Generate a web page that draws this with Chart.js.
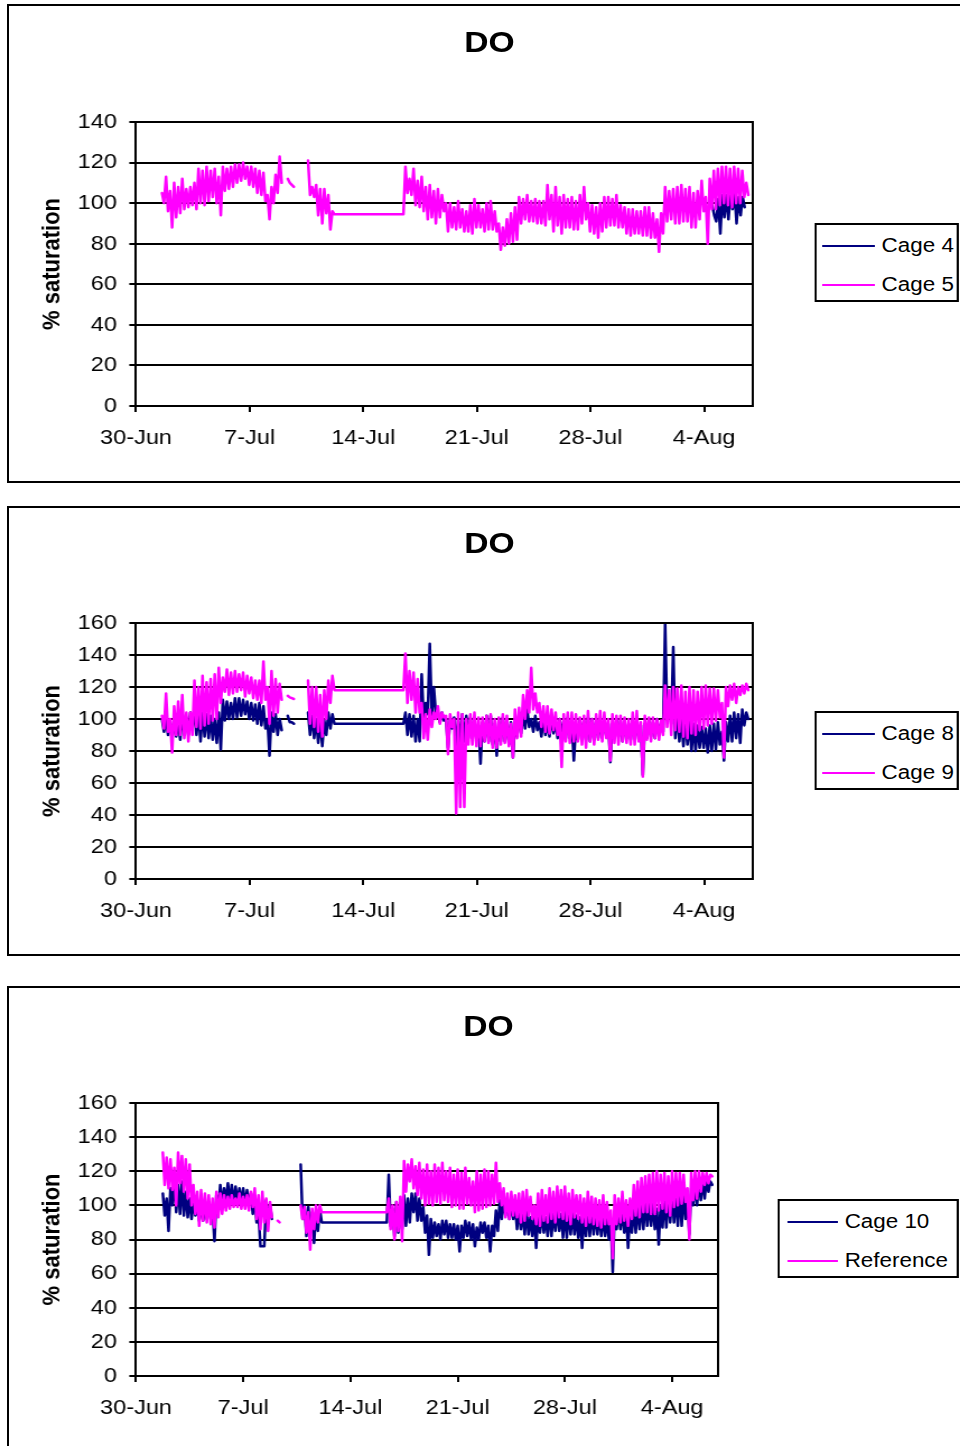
<!DOCTYPE html>
<html>
<head>
<meta charset="utf-8">
<title>DO - % saturation</title>
<script src="https://cdn.jsdelivr.net/npm/chart.js@4.4.1/dist/chart.umd.min.js"></script>
<style>
  body { margin: 0; width: 960px; height: 1446px; overflow: hidden; background: #fff; position: relative;
         font-family: "Liberation Sans", Arial, sans-serif; color: #000; }
  .frame { position: absolute; left: 7px; width: 1000px; border: 2px solid #000; box-sizing: border-box; }
  /* the whole sheet is a little wider than tall, so each panel is stretched sideways */
  .panel { position: absolute; left: 0; width: 857px; transform: scaleX(1.1202); transform-origin: 0 0; }
  .panel canvas { position: absolute; left: 0; top: 0; }
  .title { position: absolute; width: 200px; margin-left: -100px; text-align: center;
           font-weight: bold; font-size: 30px; line-height: 30px; }
  .legend { position: absolute; border: 2px solid #000; box-sizing: border-box; background: #fff; }
  .legend .line { position: absolute; height: 0; border-top: 2px solid; }
  .legend .text { position: absolute; font-size: 20px; line-height: 24px; white-space: nowrap; }
</style>
</head>
<body>

<div class="frame" style="top:4px;height:479px"></div>
<div class="frame" style="top:506px;height:450px"></div>
<div class="frame" style="top:986px;height:600px"></div>

<div class="panel" style="top:0;height:480px">
  <canvas id="chart1" width="857" height="480"></canvas>
  <div class="title" style="left:437px;top:27px">DO</div>
  <div class="legend" style="left:727px;top:223px;width:129px;height:79px">
    <div class="line" style="left:5px;top:20px;width:47px;border-color:#000080"></div>
    <div class="text" style="left:58px;top:8px">Cage 4</div>
    <div class="line" style="left:5px;top:59px;width:47px;border-color:#ff00ff"></div>
    <div class="text" style="left:58px;top:47px">Cage 5</div>
  </div>
</div>

<div class="panel" style="top:500px;height:460px">
  <canvas id="chart2" width="857" height="460"></canvas>
  <div class="title" style="left:437px;top:28px">DO</div>
  <div class="legend" style="left:727px;top:211px;width:129px;height:79px">
    <div class="line" style="left:5px;top:20px;width:47px;border-color:#000080"></div>
    <div class="text" style="left:58px;top:8px">Cage 8</div>
    <div class="line" style="left:5px;top:59px;width:47px;border-color:#ff00ff"></div>
    <div class="text" style="left:58px;top:47px">Cage 9</div>
  </div>
</div>

<div class="panel" style="top:982px;height:464px">
  <canvas id="chart3" width="857" height="464"></canvas>
  <div class="title" style="left:436px;top:29px">DO</div>
  <div class="legend" style="left:694px;top:217px;width:162px;height:79px">
    <div class="line" style="left:7px;top:20px;width:45px;border-color:#000080"></div>
    <div class="text" style="left:58px;top:8px">Cage 10</div>
    <div class="line" style="left:7px;top:59px;width:45px;border-color:#ff00ff"></div>
    <div class="text" style="left:58px;top:47px">Reference</div>
  </div>
</div>

<script>
// days counted from 30-Jun, readings every 3 hours
const STEP = 0.125;
const tickDays = [0, 7, 14, 21, 28, 35];
const tickLabels = ['30-Jun', '7-Jul', '14-Jul', '21-Jul', '28-Jul', '4-Aug'];

// Cage 4 / Cage 5
const cage4Start = 35.5;
const cage4 = [99, 94, 91, 102, 85, 104, 93, 104, 92, 105, 97, 105, 90, 103, 94, 103, 98];
const cage5Start = 1.6;
const cage5 = [
  105, 100, 113, 96, 106, 88, 110, 93, 108, 95, 112, 97, 107, 98, 108, 99, 110, 97, 117, 100,
  116, 99, 118, 101, 116, 103, 117, 100, 113, 94, 118, 106, 117, 107, 118, 108, 119, 110, 119, 111,
  120, 112, 118, 109, 118, 108, 117, 105, 116, 104, 115, 101, 104, 92, 108, 100, 114, 105, 123, 110,
  null, null, 112, 110, 109, 108, null, null, null, null, null, null, 121, 104, 108, 103, 109, 94, 107, 90,
  107, 95, 104, 87, 96, 94.5,
  94.5, 94.5, 94.5, 94.5, 94.5, 94.5, 94.5, 94.5, 94.5, 94.5, 94.5, 94.5, 94.5, 94.5, 94.5, 94.5, 94.5,
  94.5, 94.5, 94.5, 94.5, 94.5, 94.5, 94.5, 94.5, 94.5, 94.5, 94.5, 94.5, 94.5, 94.5, 94.5, 94.5, 94.5,
  118, 105, 112, 104, 117, 99, 111, 98, 113, 96, 108, 92, 109, 93, 106, 90, 107, 93, 104, 96,
  100, 86, 100, 88, 98, 87, 101, 88, 97, 86, 96, 86, 99, 85, 102, 88, 99, 88, 97, 86,
  100, 87, 101, 87, 96, 86, 90, 77, 88, 79, 92, 80, 95, 81, 98, 82, 103, 90, 102, 92,
  104, 91, 101, 91, 102, 90, 101, 90, 101, 89, 109, 92, 104, 86, 108, 89, 103, 85, 104, 88,
  102, 88, 103, 87, 101, 87, 104, 90, 108, 92, 100, 86, 99, 85, 98, 83, 100, 86, 103, 88,
  103, 89, 102, 89, 104, 88, 99, 88, 98, 85, 97, 84, 97, 85, 96, 85, 96, 84, 98, 84,
  98, 83, 95, 83, 92, 76, 95, 85, 108, 91, 106, 92, 107, 90, 108, 90, 109, 91, 107, 91,
  108, 88, 105, 88, 106, 92, 111, 96, 103, 80, 112, 97, 116, 97, 117, 99, 118, 100, 118, 99,
  117, 98, 118, 100, 117, 100, 116, 103, 110, 104
];

// Cage 8 / Cage 9
const cage8Start = 1.6;
const cage8 = [
  100, 92, 101, 90, 99, 88, 99, 89, 98, 87, 104, 90, 101, 90, 104, 94, 107, 90, 104, 86,
  104, 89, 103, 88, 102, 87, 100, 85, 104, 81, 112, 99, 111, 100, 110, 100, 113, 101, 113, 102,
  112, 103, 111, 100, 110, 99, 109, 97, 110, 96, 108, 94, 100, 77, 104, 92, 103, 90, 100, 93,
  null, null, 102, 98, 98, 97, null, null, null, null, null, null, 104, 90, 102, 88, 100, 85, 99, 83,
  99, 90, 104, 94, 103, 97,
  97, 97, 97, 97, 97, 97, 97, 97, 97, 97, 97, 97, 97, 97, 97, 97, 97,
  97, 97, 97, 97, 97, 97, 97, 97, 97, 97, 97, 97, 97, 97, 97, 97, 97,
  104, 90, 103, 89, 102, 86, 100, 86, 128, 100, 110, 103, 147, 102, 120, 103, 104, 98, 104, 99,
  100, 82, 100, 94, 101, 83, 100, 86, 103, 86, 102, 88, 101, 88, 99, 87, 96, 72, 98, 86,
  102, 86, 102, 84, 97, 77, 99, 86, 101, 86, 100, 84, 98, 76, 98, 89, 104, 91, 103, 94,
  106, 95, 100, 92, 102, 93, 98, 89, 100, 90, 97, 89, 101, 91, 98, 88, 100, 90, 99, 88,
  101, 88, 97, 74, 95, 87, 100, 88, 99, 87, 101, 86, 100, 87, 99, 88, 98, 88, 100, 90,
  97, 73, 97, 88, 100, 89, 99, 86, 98, 88, 97, 87, 100, 88, 99, 87, 96, 65, 97, 88,
  99, 89, 98, 88, 100, 90, 97, 92, 160, 101, 110, 97, 145, 88, 104, 86, 100, 83, 99, 84,
  98, 80, 97, 80, 96, 82, 95, 82, 94, 79, 96, 80, 97, 81, 98, 84, 92, 74, 98, 86,
  102, 86, 104, 88, 103, 85, 106, 96, 104, 100
];
const cage9Start = 1.6;
const cage9 = [
  102, 94, 116, 92, 100, 79, 108, 90, 111, 90, 115, 88, 104, 86, 104, 90, 124, 95, 120, 94,
  127, 96, 123, 97, 125, 99, 128, 100, 132, 110, 126, 117, 131, 115, 129, 116, 130, 117, 128, 118,
  129, 114, 127, 116, 126, 113, 124, 112, 124, 110, 136, 112, 120, 97, 130, 102, 125, 104, 122, 112,
  null, null, 114.5, 113.5, 113, 112.5, null, null, null, null, null, null, 124, 97, 120, 95, 120, 92, 115, 89,
  118, 100, 124, 110, 127, 118,
  118, 118, 118, 118, 118, 118, 118, 118, 118, 118, 118, 118, 118, 118, 118, 118, 118,
  118, 118, 118, 118, 118, 118, 118, 118, 118, 118, 118, 118, 118, 118, 118, 118, 118,
  141, 110, 130, 112, 129, 104, 125, 104, 110, 88, 103, 87, 106, 95, 104, 100, 108, 97, 104, 101,
  102, 78, 103, 95, 100, 41, 104, 45, 103, 45, 100, 84, 103, 84, 104, 83, 101, 83, 101, 86,
  102, 85, 103, 82, 100, 82, 101, 84, 103, 85, 102, 83, 97, 76, 106, 88, 107, 89, 115, 100,
  118, 104, 132, 106, 116, 104, 110, 95, 108, 92, 108, 91, 106, 93, 104, 90, 100, 70, 103, 86,
  104, 85, 104, 86, 103, 86, 101, 84, 102, 82, 105, 86, 100, 84, 103, 87, 105, 86, 104, 88,
  100, 74, 103, 85, 102, 84, 102, 86, 101, 85, 100, 84, 104, 84, 105, 86, 98, 64, 102, 87,
  101, 86, 101, 88, 100, 87, 99, 90, 121, 95, 118, 90, 120, 93, 119, 92, 121, 89, 117, 88,
  120, 91, 118, 90, 117, 93, 120, 94, 121, 96, 119, 97, 119, 99, 118, 101, 110, 76, 120, 108,
  121, 112, 122, 110, 120, 115, 121, 116, 122, 118
];

// Cage 10 / Reference
const cage10Start = 1.75;
const cage10 = [
  107, 94, 104, 85, 110, 100, 116, 96, 112, 95, 114, 94, 108, 93, 104, 92, 102, 94, 99, 91,
  100, 91, 98, 92, 101, 92, 97, 79, 106, 98, 112, 100, 110, 103, 113, 101, 112, 101, 111, 102,
  110, 102, 110, 100, 109, 100, 107, 95, 105, 90, 95, 76, 76, 76, 103, 92, 100, 92,
  null, null, null, null, null, null, null, null, null, null, null, null, null, null,
  124, 92, 100, 82, 99, 84, 96, 78, 96, 85, 98, 90,
  90, 90, 90, 90, 90, 90, 90, 90, 90, 90, 90, 90, 90, 90, 90, 90, 90,
  90, 90, 90, 90, 90, 90, 90, 90, 90, 90, 90, 90, 90, 90, 90, 90, 90,
  118, 88, 98, 82, 102, 84, 100, 86, 106, 88, 104, 90, 107, 96, 107, 91, 104, 91, 99, 84, 94, 71,
  92, 81, 90, 82, 89, 80, 91, 83, 91, 81, 89, 81, 89, 80, 88, 73, 88, 81, 91, 82,
  90, 80, 89, 76, 87, 80, 90, 84, 90, 81, 88, 73, 88, 82, 97, 85, 103, 92, 103, 94,
  103, 92, 101, 92, 100, 86, 99, 86, 96, 83, 97, 83, 93, 82, 94, 75, 95, 84, 96, 84,
  93, 82, 97, 82, 96, 85, 98, 85, 95, 81, 97, 81, 97, 83, 96, 83, 94, 81, 93, 75,
  95, 82, 97, 82, 97, 83, 96, 83, 95, 82, 94, 82, 92, 80, 90, 61, 96, 86, 98, 86,
  97, 84, 95, 75, 94, 84, 99, 84, 100, 86, 102, 86, 103, 88, 102, 88, 101, 86, 98, 77,
  100, 87, 105, 87, 107, 90, 106, 90, 105, 88, 108, 88, 108, 92, 104, 83, 110, 100, 113, 100,
  114, 103, 115, 104, 116, 108, 114, 112
];
const referenceStart = 1.75;
const reference = [
  131, 112, 128, 110, 127, 109, 122, 100, 131, 113, 129, 108, 127, 104, 124, 100, 112, 95, 108, 88,
  109, 91, 107, 90, 106, 89, 104, 87, 108, 93, 107, 95, 106, 97, 105, 98, 106, 99, 104, 99,
  107, 98, 105, 98, 106, 97, 108, 99, 110, 92, 106, 86, 108, 90, 104, 85, 102, 93,
  null, null, 91, 90, null, null, null, null, null, null, null, null, null, null,
  100, 92, 99, 84, 96, 74, 98, 86, 100, 90, 100, 96,
  96, 96, 96, 96, 96, 96, 96, 96, 96, 96, 96, 96, 96, 96, 96, 96, 96,
  96, 96, 96, 96, 96, 96, 96, 96, 96, 96, 96, 96, 96, 96, 96, 96, 96,
  104, 86, 100, 80, 102, 85, 105, 79, 126, 108, 124, 114, 127, 110, 123, 106, 125, 104, 121, 100, 124, 101,
  120, 100, 124, 102, 122, 101, 125, 103, 120, 102, 122, 99, 118, 100, 121, 98, 119, 98, 122, 101,
  116, 100, 114, 96, 120, 97, 118, 98, 121, 99, 120, 100, 118, 101, 125, 102, 113, 100, 110, 93,
  107, 92, 108, 94, 106, 93, 107, 90, 108, 91, 109, 94, 105, 92, 100, 89, 107, 88, 109, 91,
  106, 90, 110, 92, 108, 90, 111, 93, 109, 92, 111, 91, 107, 89, 109, 93, 106, 92, 106, 90,
  104, 88, 108, 90, 105, 89, 104, 88, 103, 87, 106, 89, 102, 89, 97, 69, 106, 89, 104, 90,
  108, 91, 103, 88, 104, 92, 112, 94, 114, 93, 116, 96, 117, 96, 118, 95, 119, 95, 120, 97,
  118, 98, 119, 96, 117, 94, 120, 99, 119, 100, 119, 101, 118, 102, 110, 80, 119, 103, 120, 104,
  120, 108, 119, 112, 119, 113, 118, 117
];

const NAVY = '#000080';
const PINK = '#ff00ff';
const FONT = 'Liberation Sans, Arial, sans-serif';

function points(start, values) {
  return values.map((v, i) => ({ x: start + i * STEP, y: v }));
}

// closes the plot box on the top and right
const plotFrame = {
  id: 'plotFrame',
  afterDatasetsDraw(chart) {
    const { ctx, chartArea: a } = chart;
    ctx.save();
    ctx.strokeStyle = '#000';
    ctx.lineWidth = 2;
    ctx.beginPath();
    ctx.moveTo(a.left, a.top);
    ctx.lineTo(a.right, a.top);
    ctx.lineTo(a.right, a.bottom);
    ctx.stroke();
    ctx.restore();
  }
};

function drawPanel(id, series, yMax, padding) {
  new Chart(document.getElementById(id), {
    type: 'line',
    data: {
      datasets: series.map(s => ({
        label: s.label,
        data: points(s.start, s.values),
        borderColor: s.color,
        backgroundColor: s.color,
        borderWidth: 2.5,
        borderJoinStyle: 'round',
        borderCapStyle: 'round',
        pointRadius: 0,
        tension: 0,
        spanGaps: false,
        order: s.order
      }))
    },
    options: {
      responsive: false,
      animation: false,
      events: [],
      layout: { padding: padding },
      plugins: { legend: { display: false }, tooltip: { enabled: false } },
      scales: {
        x: {
          type: 'linear',
          min: 0,
          max: 38,
          afterFit: s => { s.height = 60; },
          border: { color: '#000', width: 2 },
          grid: { drawOnChartArea: false, drawTicks: true, tickLength: 6, color: '#000', lineWidth: 2 },
          ticks: {
            stepSize: 7,
            includeBounds: false,
            autoSkip: false,
            maxRotation: 0,
            padding: 14,
            color: '#000',
            font: { family: FONT, size: 21 },
            callback: v => {
              const i = tickDays.indexOf(v);
              return i < 0 ? '' : tickLabels[i];
            }
          }
        },
        y: {
          min: 0,
          max: yMax,
          afterFit: s => { s.width = 121.4; },
          border: { color: '#000', width: 2 },
          grid: { color: '#000', lineWidth: 2, drawTicks: true, tickLength: 6 },
          ticks: { stepSize: 20, padding: 11, color: '#000', font: { family: FONT, size: 21 } },
          title: {
            display: true,
            text: '% saturation',
            color: '#000',
            font: { family: FONT, size: 22, weight: 'bold' },
            padding: { top: 34, bottom: 0 }
          }
        }
      }
    },
    plugins: [plotFrame]
  });
}

drawPanel('chart1', [
  { label: 'Cage 4', start: cage4Start, values: cage4, color: NAVY, order: 2 },
  { label: 'Cage 5', start: cage5Start, values: cage5, color: PINK, order: 1 }
], 140, { top: 122, right: 185, bottom: 14, left: 0 });

drawPanel('chart2', [
  { label: 'Cage 8', start: cage8Start, values: cage8, color: NAVY, order: 2 },
  { label: 'Cage 9', start: cage9Start, values: cage9, color: PINK, order: 1 }
], 160, { top: 123, right: 185, bottom: 21, left: 0 });

drawPanel('chart3', [
  { label: 'Cage 10', start: cage10Start, values: cage10, color: NAVY, order: 2 },
  { label: 'Reference', start: referenceStart, values: reference, color: PINK, order: 1 }
], 160, { top: 121, right: 216, bottom: 10, left: 0 });
</script>
</body>
</html>
